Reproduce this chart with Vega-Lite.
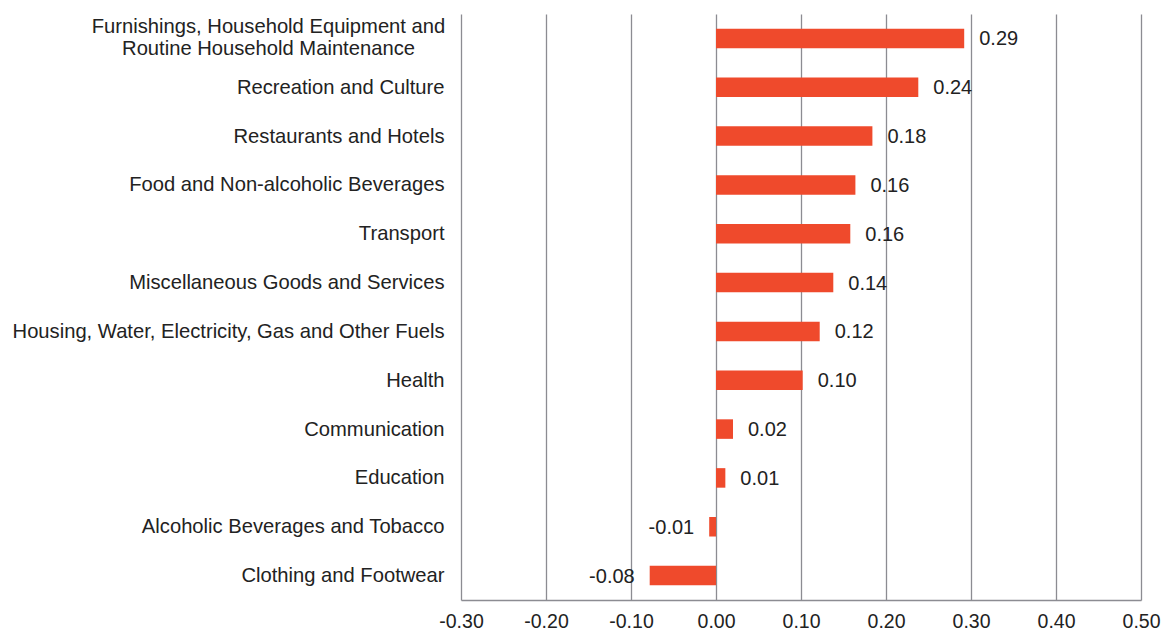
{
  "$schema": "https://vega.github.io/schema/vega-lite/v6.json",
  "width": 680,
  "height": 586,
  "autosize": "none",
  "padding": {"left": 461, "top": 14, "right": 20, "bottom": 32},
  "background": "white",
  "config": {
    "view": {"stroke": null},
    "font": "Arial"
  },
  "data": {
    "values": [
      {"category": "Furnishings, Household Equipment and|Routine Household Maintenance", "value": 0.292},
      {"category": "Recreation and Culture", "value": 0.238},
      {"category": "Restaurants and Hotels", "value": 0.184},
      {"category": "Food and Non-alcoholic Beverages", "value": 0.164},
      {"category": "Transport", "value": 0.158},
      {"category": "Miscellaneous Goods and Services", "value": 0.138},
      {"category": "Housing, Water, Electricity, Gas and Other Fuels", "value": 0.122},
      {"category": "Health", "value": 0.102},
      {"category": "Communication", "value": 0.02},
      {"category": "Education", "value": 0.011},
      {"category": "Alcoholic Beverages and Tobacco", "value": -0.008},
      {"category": "Clothing and Footwear", "value": -0.078}
    ]
  },
  "encoding": {
    "y": {
      "field": "category",
      "type": "nominal",
      "sort": null,
      "scale": {"paddingInner": 0.6, "paddingOuter": 0.3},
      "axis": {
        "title": null,
        "domain": false,
        "ticks": false,
        "labelPadding": {"condition": {"test": "indexof(datum.value, '|') >= 0", "value": 193}, "value": 17},
        "labelFontSize": 20.2,
        "labelColor": "#222222",
        "labelFont": "Arial",
        "labelLimit": 600,
        "labelAlign": {"condition": {"test": "indexof(datum.value, '|') >= 0", "value": "center"}, "value": "right"},
        "labelLineHeight": 22,
        "labelOffset": {"condition": {"test": "indexof(datum.value, '|') >= 0", "value": -11}, "value": 0.5},
        "labelExpr": "split(datum.value, '|')"
      }
    },
    "x": {
      "field": "value",
      "type": "quantitative",
      "scale": {"domain": [-0.3, 0.5], "nice": false, "zero": false},
      "axis": {
        "title": null,
        "values": [-0.3, -0.2, -0.1, 0, 0.1, 0.2, 0.3, 0.4, 0.5],
        "labelExpr": "replace(format(datum.value, '.2f'), '\u2212', '-')",
        "grid": true,
        "gridColor": "#8c8c92",
        "gridWidth": 1.3,
        "domainColor": "#8c8c92",
        "domainWidth": 1.3,
        "ticks": false,
        "labelPadding": 12,
        "labelFontSize": 19.5,
        "labelColor": "#222222",
        "labelFont": "Arial",
        "labelFlush": false
      }
    }
  },
  "layer": [
    {
      "mark": {"type": "bar", "color": "#EF4A2C"}
    },
    {
      "transform": [
        {"filter": "datum.value >= 0"},
        {"calculate": "replace(format(datum.value, '.2f'), '\u2212', '-')", "as": "label"}
      ],
      "mark": {"type": "text", "align": "left", "baseline": "middle", "dx": 15, "dy": 1, "fontSize": 20, "color": "#222222", "font": "Arial"},
      "encoding": {"text": {"field": "label", "type": "nominal"}}
    },
    {
      "transform": [
        {"filter": "datum.value < 0"},
        {"calculate": "replace(format(datum.value, '.2f'), '\u2212', '-')", "as": "label"}
      ],
      "mark": {"type": "text", "align": "right", "baseline": "middle", "dx": -15, "dy": 1, "fontSize": 20, "color": "#222222", "font": "Arial"},
      "encoding": {"text": {"field": "label", "type": "nominal"}}
    }
  ]
}
